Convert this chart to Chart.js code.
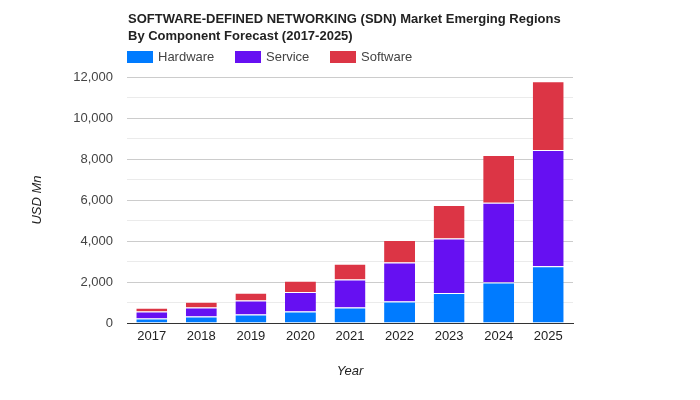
<!DOCTYPE html>
<html><head><meta charset="utf-8">
<script src="https://cdn.jsdelivr.net/npm/chart.js@4"></script>
<style>
html,body{margin:0;padding:0;background:#fff;}
#wrap{position:relative;width:700px;height:400px;font-family:Arial,"Liberation Sans",sans-serif;}
#title{position:absolute;left:128px;top:10px;font-weight:bold;font-size:13px;line-height:17px;color:#222;}
#legend{position:absolute;left:127px;top:49px;font-size:13px;color:#444;display:flex;}
.li{display:flex;align-items:center;margin-right:0;}
.sw{width:26px;height:12px;display:inline-block;margin-right:5px;}
canvas{position:absolute;left:0;top:0;}
</style></head>
<body><div id="wrap">
<canvas id="c" width="700" height="400"></canvas>
<div id="title">SOFTWARE-DEFINED NETWORKING (SDN) Market Emerging Regions<br>By Component Forecast (2017-2025)</div>
<div id="legend"></div>
</div>
<script>
const years = ['2017','2018','2019','2020','2021','2022','2023','2024','2025'];
const hardware = [224, 321, 418, 564, 760, 1051, 1460, 1976, 2774];
const service = [340, 438, 682, 944, 1362, 1898, 2657, 3893, 5659];
const software = [181, 277, 374, 550, 764, 1104, 1640, 2321, 3358];
const seriesNames = ['Hardware','Service','Software'];
const colors = ['#007bff','#6610f2','#dc3545'];

const legendX = [127, 235, 330];
const lg = document.getElementById('legend');
seriesNames.forEach((n,i)=>{
  const d=document.createElement('div');d.className='li';
  d.style.position='absolute';d.style.left=(legendX[i]-127)+'px';d.style.whiteSpace='nowrap';
  d.innerHTML='<span class="sw" style="background:'+colors[i]+'"></span>'+n;
  lg.appendChild(d);
});

const data=[hardware,service,software];
new Chart(document.getElementById('c'),{
  type:'bar',
  data:{labels:years,datasets:seriesNames.map((n,i)=>({label:n,data:data[i],backgroundColor:colors[i],borderColor:'#fff',borderWidth:{top:1,bottom:0,left:0,right:0},borderSkipped:false,categoryPercentage:0.8,barPercentage:0.78}))},
  options:{
    responsive:false,animation:false,
    layout:{padding:{left:26,right:127,top:77,bottom:17}},
    plugins:{legend:{display:false},title:{display:false},tooltip:{enabled:false}},
    scales:{
      x:{stacked:true,
        grid:{display:false,drawTicks:false},
        border:{color:'#333',width:1},
        ticks:{color:'#222',font:{family:'Arial',size:13},padding:6},
        title:{display:true,text:'Year',color:'#222',font:{family:'Arial',size:13,style:'italic'},padding:{top:14}},
        afterFit:(s)=>{s.height=60;}
      },
      y:{stacked:true,min:0,max:12000,
        grid:{color:(c)=> (c.tick && c.tick.value%2000===0)?'#cccccc':'#ebebeb',drawTicks:false},
        border:{display:false},
        ticks:{stepSize:1000,color:'#444',font:{family:'Arial',size:13},padding:14,
          callback:(v)=> v%2000===0 ? v.toLocaleString('en-US') : ''},
        title:{display:true,text:'USD Mn',color:'#222',font:{family:'Arial',size:13,style:'italic'}},
        afterFit:(s)=>{s.width=101;}
      }
    }
  }
});
</script>
</body></html>
